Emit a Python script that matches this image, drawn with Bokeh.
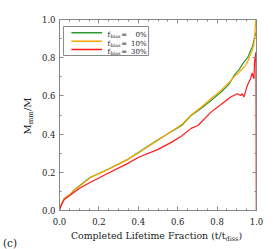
from bokeh.plotting import figure
from bokeh.models import Range1d, FixedTicker, LinearAxis, NumeralTickFormatter, Div
from bokeh.layouts import row, column
from bokeh.core.properties import value
from bokeh.embed import file_html
from bokeh.resources import INLINE

# ---- data ----
green_t = [0, 0.002, 0.007, 0.024, 0.057, 0.074, 0.1, 0.157, 0.2, 0.241, 0.342, 0.402, 0.5,
           0.62, 0.668, 0.72, 0.769, 0.819, 0.86, 0.886, 0.91, 0.936, 0.955, 0.97, 0.98,
           0.99, 0.997, 1.0]
green_M = [0, 0.012, 0.026, 0.061, 0.087, 0.108, 0.128, 0.174, 0.194, 0.213, 0.265, 0.305, 0.37,
           0.445, 0.497, 0.535, 0.576, 0.619, 0.66, 0.707, 0.735, 0.777, 0.8, 0.838, 0.86,
           0.905, 0.93, 0.94]

orange_t = [0, 0.002, 0.007, 0.024, 0.057, 0.074, 0.1, 0.157, 0.2, 0.241, 0.342, 0.402, 0.5,
            0.62, 0.668, 0.72, 0.769, 0.819, 0.86, 0.886, 0.91, 0.936, 0.945, 0.96, 0.975,
            0.987, 0.992, 0.995, 0.998, 1.0]
orange_M = [0, 0.012, 0.025, 0.06, 0.086, 0.106, 0.126, 0.172, 0.193, 0.212, 0.265, 0.302, 0.368,
            0.45, 0.5, 0.542, 0.585, 0.628, 0.67, 0.7, 0.722, 0.75, 0.76, 0.79, 0.83,
            0.87, 0.93, 0.98, 1.02, 0.95]

red_t = [0, 0.002, 0.007, 0.024, 0.057, 0.074, 0.1, 0.157, 0.2, 0.241, 0.342, 0.402, 0.5, 0.57,
         0.62, 0.668, 0.703, 0.769, 0.82, 0.869, 0.903, 0.919, 0.928, 0.936, 0.953, 0.97,
         0.978, 0.987, 0.99, 0.997, 0.999]
red_M = [0, 0.012, 0.025, 0.058, 0.082, 0.096, 0.115, 0.148, 0.17, 0.192, 0.244, 0.279, 0.32, 0.358,
         0.39, 0.43, 0.445, 0.515, 0.555, 0.594, 0.611, 0.602, 0.611, 0.594, 0.654, 0.69,
         0.72, 0.69, 0.776, 0.83, 0.0]

series_labels = ["0%", "10%", "30%"]
series_colors = ["#2e9a2e", "#ffa500", "#ff1a1a"]

x_major = [0.0, 0.2, 0.4, 0.6, 0.8, 1.0]
x_minor = [round(i * 0.05, 2) for i in range(21)]
y_major = [0.0, 0.2, 0.4, 0.6, 0.8, 1.0]
y_minor = [round(i * 0.1, 1) for i in range(11)]

FONT = "DejaVu Serif"
GRAY = "#888888"
INK = "#222222"

YDIV_W = 38
P_W, P_H = 228, 230

p = figure(width=P_W, height=P_H, output_backend="svg", toolbar_location=None,
           x_range=Range1d(0, 1), y_range=Range1d(0, 1),
           min_border_left=19, min_border_right=10, min_border_top=19, min_border_bottom=20)
p.grid.visible = False
p.outline_line_color = GRAY
p.background_fill_color = "white"
p.border_fill_color = "white"


def style_axis(ax, ticks, minor, labels=True):
    ax.ticker = FixedTicker(ticks=ticks, minor_ticks=minor)
    ax.axis_line_color = GRAY
    ax.major_tick_line_color = GRAY
    ax.minor_tick_line_color = GRAY
    ax.major_tick_in = 4
    ax.major_tick_out = 0
    ax.minor_tick_in = 2
    ax.minor_tick_out = 0
    ax.major_label_text_font = FONT
    ax.major_label_text_font_size = "8.5px"
    ax.major_label_text_color = INK
    ax.formatter = NumeralTickFormatter(format="0.0")
    if not labels:
        ax.major_label_overrides = {t: "" for t in ticks}
        ax.major_label_standoff = 0


style_axis(p.xaxis[0], x_major, x_minor)
style_axis(p.yaxis[0], y_major, y_minor)
p.xaxis[0].major_label_standoff = 7
p.yaxis[0].major_label_standoff = 4

top = LinearAxis()
style_axis(top, x_major, x_minor, labels=False)
p.add_layout(top, "above")
right = LinearAxis()
style_axis(right, y_major, y_minor, labels=False)
p.add_layout(right, "right")

# ---- curves ----
p.line(green_t, green_M, line_color=series_colors[0], line_width=1.2)
p.line(orange_t, orange_M, line_color=series_colors[1], line_width=1.2)
p.line(red_t, red_M, line_color=series_colors[2], line_width=1.2)

# ---- legend (manual, to get the subscripted f_bias) ----
fx = lambda px: (px - 57) / 199.0
fy = lambda py: (210 - py) / 191.0
p.quad(left=[fx(61)], right=[fx(147)], top=[fy(26)], bottom=[fy(55)],
       fill_color="white", line_color=GRAY, line_width=1)
row_y = [fy(32.3), fy(40.7), fy(49)]
for i in range(3):
    p.line([fx(69), fx(100)], [row_y[i], row_y[i]], line_color=series_colors[i], line_width=1.5)
p.text(x=[fx(105.5)] * 3, y=[r - 2.3 / 191 for r in row_y], text=["f"] * 3,
       text_font=value(FONT), text_font_size=value("7px"), text_baseline="alphabetic",
       text_color=INK)
p.text(x=[fx(108.5)] * 3, y=[r - 3.8 / 191 for r in row_y], text=["bias"] * 3,
       text_font=value(FONT), text_font_size=value("4.8px"), text_baseline="alphabetic",
       text_color=INK)
p.text(x=[fx(119.5)] * 3, y=[r - 2.3 / 191 for r in row_y], text=["="] * 3,
       text_font=value(FONT), text_font_size=value("7px"), text_baseline="alphabetic",
       text_color=INK)
p.text(x=[fx(145)] * 3, y=[r - 2.3 / 191 for r in row_y], text=series_labels,
       text_font=value(FONT), text_font_size=value("7px"), text_baseline="alphabetic",
       text_align="right", text_color=INK)

# ---- axis labels as HTML text (real text with subscripts) ----
base = f"font-family:'{FONT}';color:{INK};line-height:1;white-space:nowrap;"
ylab_html = (
    f'<div style="position:relative;width:{YDIV_W}px;height:{P_H}px;">'
    f'<div style="position:absolute;left:28px;top:116px;{base}font-size:10px;'
    'transform:translate(-50%,-50%) rotate(-90deg);">'
    'M<span style="font-size:7px;position:relative;top:2px;">mm</span>/M</div></div>'
)
ydiv = Div(text=ylab_html, width=YDIV_W, height=P_H, margin=0)

BOT_W = YDIV_W + P_W
xlab_html = (
    f'<div style="position:relative;width:{BOT_W}px;height:19px;">'
    f'<div style="position:absolute;left:3px;top:7.5px;{base}font-size:10.5px;">(c)</div>'
    f'<div style="position:absolute;left:156.5px;top:0.6px;{base}font-size:9.4px;'
    'transform:translateX(-50%);">Completed Lifetime Fraction (t/t'
    '<span style="font-size:6.5px;position:relative;top:2px;">diss</span>)</div></div>'
)
xdiv = Div(text=xlab_html, width=BOT_W, height=19, margin=0)

layout = column(row(ydiv, p, spacing=0), xdiv, spacing=0)

open("out.html", "w").write(file_html(layout, INLINE))
